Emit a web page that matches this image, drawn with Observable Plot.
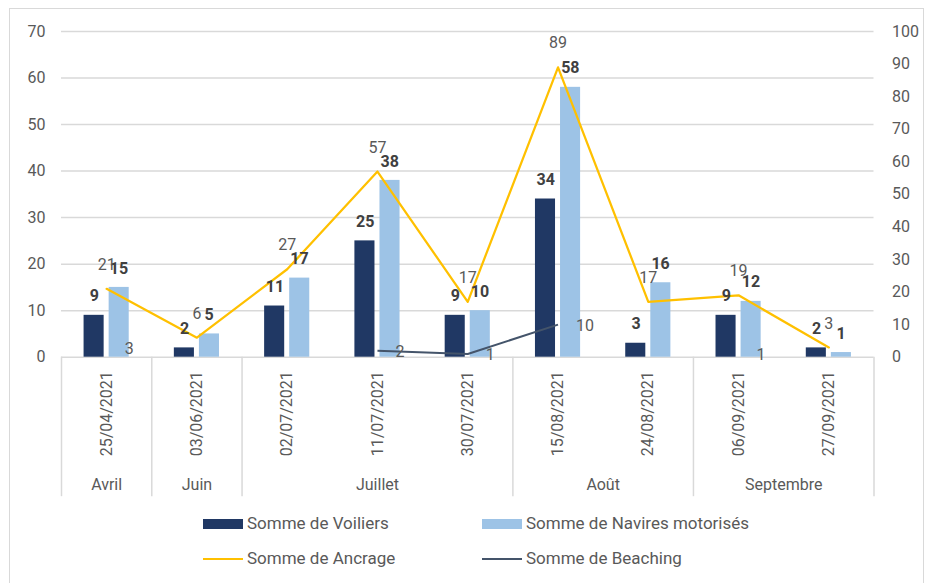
<!DOCTYPE html>
<html>
<head>
<meta charset="utf-8">
<script src="https://cdn.jsdelivr.net/npm/d3@7"></script>
<script src="https://cdn.jsdelivr.net/npm/@observablehq/plot@0.6"></script>
<style>
  html, body { margin: 0; padding: 0; background: #fff; }
  body { width: 927px; height: 583px; position: relative; overflow: hidden; font-family: Roboto, "Noto Sans", sans-serif; }
  #frame { position: absolute; left: 9px; top: 8px; width: 915px; height: 600px; border: 1.5px solid #d9d9d9; box-sizing: border-box; pointer-events: none; }
  #chart { position: absolute; left: 0; top: 0; }
  .leg { position: absolute; font-size: 17px; color: #595959; line-height: 20px; white-space: nowrap; }
  .sw { position: absolute; }
</style>
</head>
<body>
<div id="chart"></div>
<div id="legend"></div>
<div id="frame"></div>
<script>
// ---- data ----
const dates = ["25/04/2021", "03/06/2021", "02/07/2021", "11/07/2021", "30/07/2021", "15/08/2021", "24/08/2021", "06/09/2021", "27/09/2021"];
const monthNames = {4: "Avril", 6: "Juin", 7: "Juillet", 8: "Août", 9: "Septembre"};
const voiliers = [9, 2, 11, 25, 9, 34, 3, 9, 2];
const navires = [15, 5, 17, 38, 10, 58, 16, 12, 1];
const ancrage = [21, 6, 27, 57, 17, 89, 17, 19, 3];
const beaching = [3, null, null, 2, 1, 10, null, 1, null];
const leftTicks = [0, 10, 20, 30, 40, 50, 60, 70];
const rightTicks = [0, 10, 20, 30, 40, 50, 60, 70, 80, 90, 100];
const seriesNames = ["Somme de Voiliers", "Somme de Navires motorisés", "Somme de Ancrage", "Somme de Beaching"];

const leftMax = 70, rightMax = 100;
const k = leftMax / rightMax; // right axis -> left axis units

const colors = {voiliers: "#203864", navires: "#9DC3E6", ancrage: "#FFC000", beaching: "#44546A"};

const rows = dates.map((d, i) => ({
  i, date: d, month: +d.slice(3, 5),
  voiliers: voiliers[i], navires: navires[i], ancrage: ancrage[i], beaching: beaching[i]
}));

// month groups
const monthGroups = d3.groups(rows, r => r.month).map(([m, rs]) => ({
  name: monthNames[m],
  start: d3.min(rs, r => r.i) - 0.5,
  end: d3.max(rs, r => r.i) + 0.5
}));
const separators = [...new Set(monthGroups.flatMap(g => [g.start, g.end]))];

const font = "Roboto, 'Noto Sans', sans-serif";

const plot = Plot.plot({
  width: 927,
  height: 500,
  marginLeft: 61,
  marginRight: 53.5,
  marginTop: 31,
  marginBottom: 143.3,
  style: {fontFamily: font, fontSize: "16px", color: "#595959", background: "transparent"},
  x: {type: "linear", domain: [-0.5, dates.length - 0.5], axis: null},
  y: {domain: [0, leftMax], axis: null, label: null},
  marks: [
    Plot.gridY(leftTicks, {stroke: "#d9d9d9", strokeOpacity: 1, strokeWidth: 1.5}),
    Plot.axisY({ticks: leftTicks, tickSize: 0, tickPadding: 16, fontSize: 16, label: null, fill: "#595959"}),
    Plot.axisY({anchor: "right", ticks: rightTicks.map(v => v * k), tickFormat: v => Math.round(v / k), tickSize: 0, tickPadding: 18, fontSize: 16, label: null, fill: "#595959"}),
    Plot.axisX({ticks: d3.range(dates.length), tickFormat: i => dates[i], tickRotate: -90, tickSize: 0, tickPadding: 14, fontSize: 16, label: null, fill: "#595959"}),
    Plot.ruleX(separators, {x: d => d, stroke: "#d9d9d9", strokeWidth: 1.5, insetTop: 325.7, insetBottom: -139.5}),
    Plot.text(monthGroups, {x: d => (d.start + d.end) / 2, text: "name", frameAnchor: "bottom", lineAnchor: "middle", dy: 128, fontSize: 16, fill: "#595959"}),
    Plot.rectY(rows, {x1: d => d.i - 0.25, x2: d => d.i, y: "voiliers", insetRight: 2.5, fill: colors.voiliers}),
    Plot.rectY(rows, {x1: d => d.i, x2: d => d.i + 0.25, y: "navires", insetLeft: 2.5, fill: colors.navires}),
    Plot.line(rows, {x: "i", y: d => d.ancrage * k, stroke: colors.ancrage, strokeWidth: 2.25}),
    Plot.line(rows, {x: "i", y: d => d.beaching == null ? null : d.beaching * k, stroke: colors.beaching, strokeWidth: 2, strokeLinecap: "butt"}),
    Plot.text(rows, {x: d => d.i - 0.125, y: "voiliers", text: "voiliers", dx: -1, dy: -19, fontWeight: "bold", fontSize: 16, fill: "#404040"}),
    Plot.text(rows, {x: d => d.i + 0.125, y: "navires", text: "navires", dx: 1, dy: -19, fontWeight: "bold", fontSize: 16, fill: "#404040"}),
    Plot.text(rows, {x: "i", y: d => d.ancrage * k, text: "ancrage", dy: -24, fontSize: 16, fill: "#595959"}),
    Plot.text(rows.filter(r => r.beaching != null), {x: "i", y: d => d.beaching * k, text: "beaching", dx: 18, dy: 1, textAnchor: "start", fontSize: 16, fill: "#595959"})
  ]
});
document.getElementById("chart").appendChild(plot);

// ---- legend ----
const legend = document.getElementById("legend");
const legendItems = [
  {name: seriesNames[0], color: colors.voiliers, kind: "rect", x: 203, y: 524},
  {name: seriesNames[1], color: colors.navires, kind: "rect", x: 482, y: 524},
  {name: seriesNames[2], color: colors.ancrage, kind: "line", x: 203, y: 559},
  {name: seriesNames[3], color: colors.beaching, kind: "line", x: 482, y: 559}
];
for (const it of legendItems) {
  const sw = document.createElement("div");
  sw.className = "sw";
  sw.style.left = it.x + "px";
  sw.style.width = "40px";
  sw.style.background = it.color;
  if (it.kind === "rect") { sw.style.top = (it.y - 5) + "px"; sw.style.height = "10px"; }
  else { sw.style.top = (it.y - 1) + "px"; sw.style.height = "2px"; }
  legend.appendChild(sw);
  const t = document.createElement("div");
  t.className = "leg";
  t.textContent = it.name;
  t.style.left = (it.x + 44) + "px";
  t.style.top = (it.y - 11) + "px";
  legend.appendChild(t);
}
</script>
</body>
</html>
